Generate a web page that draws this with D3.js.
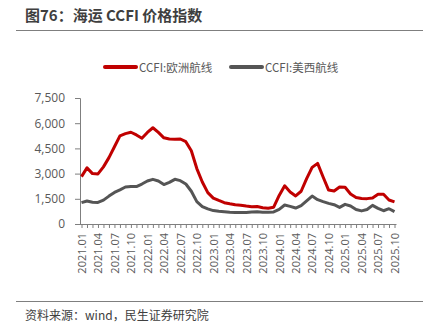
<!DOCTYPE html>
<html><head><meta charset="utf-8">
<script src="https://cdn.jsdelivr.net/npm/d3@7"></script>
<style>
body{margin:0;background:#fff;}
svg{display:block;font-family:"Noto Sans CJK SC","Noto Sans",sans-serif;}
</style></head>
<body>
<script>
const months = [];
for (let y = 2021; y <= 2025; y++) for (let m = 1; m <= 12; m++) {
  if (y === 2025 && m > 10) break;
  months.push(y + "." + String(m).padStart(2, "0"));
}
const seriesNames = ["CCFI:欧洲航线", "CCFI:美西航线"];
const europe = [2820,3340,3000,2980,3400,3950,4600,5250,5380,5460,5300,5100,5450,5730,5450,5130,5060,5050,5060,4900,4360,3300,2500,1870,1540,1400,1270,1200,1140,1120,1070,1030,1040,970,940,1000,1700,2270,1900,1670,1950,2700,3370,3610,2800,2020,1960,2200,2190,1790,1580,1520,1510,1550,1770,1770,1430,1320];
const usWest = [1270,1370,1300,1280,1420,1660,1880,2030,2200,2230,2230,2380,2560,2660,2560,2350,2480,2660,2580,2380,1950,1330,1040,900,800,760,730,700,690,680,680,720,730,700,700,720,870,1130,1050,950,1100,1380,1660,1450,1330,1230,1150,990,1170,1070,860,780,860,1110,930,790,910,740];
const yTicks = [0,1500,3000,4500,6000,7500];
const colors = ["#C00000", "#555555"];

const W = 437, H = 333;
const svg = d3.select("body").append("svg").attr("width", W).attr("height", H);

// title
svg.append("text").attr("x", 25).attr("y", 21).attr("font-size", 15).attr("font-weight", "bold")
  .attr("fill", "#3f3f3f").text("图76：海运 CCFI 价格指数");
svg.append("line").attr("x1", 16).attr("x2", 423).attr("y1", 30.5).attr("y2", 30.5)
  .attr("stroke", "#7f7f7f").attr("stroke-width", 1.2);
svg.append("line").attr("x1", 16).attr("x2", 423).attr("y1", 301.5).attr("y2", 301.5)
  .attr("stroke", "#7f7f7f").attr("stroke-width", 1.2);
svg.append("text").attr("x", 25).attr("y", 320).attr("font-size", 12)
  .attr("fill", "#404040").text("资料来源：wind，民生证券研究院");

const x = d3.scalePoint().domain(months).range([81.5, 394.5]);
const y = d3.scaleLinear().domain([0, 7500]).range([224, 98]);

// y axis
const ya = svg.append("g").attr("transform", "translate(80,0)")
  .call(d3.axisLeft(y).tickValues(yTicks).tickSize(5).tickPadding(10).tickFormat(d3.format(",")));
ya.select(".domain").attr("stroke", "#7f7f7f");
ya.selectAll(".tick line").attr("stroke", "#7f7f7f");
ya.selectAll("text").attr("font-size", 12).attr("fill", "#595959").attr("font-family", "'Open Sans',sans-serif");

// x axis
const xa = svg.append("g").attr("transform", "translate(0,224)")
  .call(d3.axisBottom(x).tickSize(4).tickSizeOuter(0)
    .tickFormat((d, i) => i % 3 === 0 ? d : ""));
xa.select(".domain").attr("stroke", "#7f7f7f").attr("d", "M80,0.5H396.5");
xa.selectAll(".tick line").attr("stroke", "#7f7f7f");
xa.selectAll("text").attr("font-size", 11).attr("fill", "#595959")
  .attr("font-family", "'Open Sans',sans-serif")
  .attr("transform", "rotate(-90)").attr("text-anchor", "end")
  .attr("x", -9).attr("y", 0).attr("dy", "0.35em");

// lines
const line = d3.line().x((d, i) => x(months[i])).y(d => y(d));
[europe, usWest].forEach((s, k) => {
  svg.append("path").datum(s).attr("d", line).attr("fill", "none")
    .attr("stroke", colors[k]).attr("stroke-width", 3).attr("stroke-linejoin", "round");
});

// legend
const lg = [{x: 105, tx: 139}, {x: 231, tx: 265}];
seriesNames.forEach((n, k) => {
  svg.append("line").attr("x1", lg[k].x).attr("x2", lg[k].x + 31).attr("y1", 67).attr("y2", 67)
    .attr("stroke", colors[k]).attr("stroke-width", 4).attr("stroke-linecap", "round");
  svg.append("text").attr("x", lg[k].tx).attr("y", 71.5).attr("font-size", 11.5)
    .attr("fill", "#595959").text(n);
});
</script>
</body></html>
